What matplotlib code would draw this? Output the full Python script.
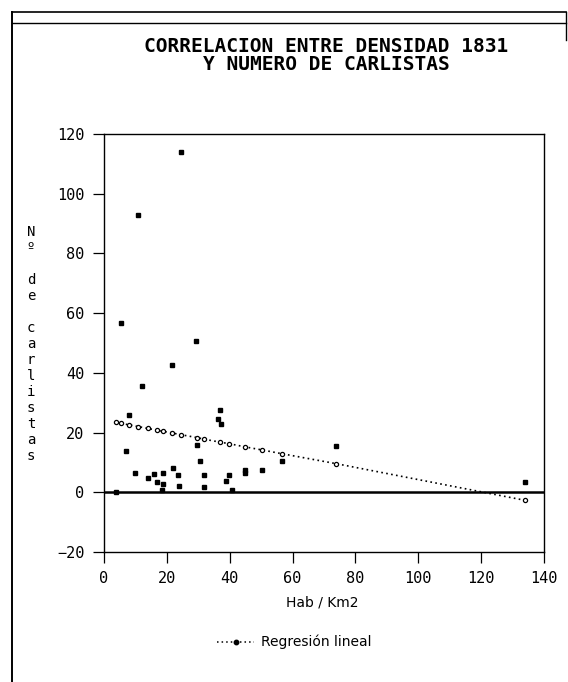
import numpy as np
import matplotlib
matplotlib.use("Agg")
import matplotlib.pyplot as plt
from matplotlib.lines import Line2D

# densidad (hab/km2) y numero de carlistas
densidad = [3.8, 5.3, 6.9, 7.9, 9.8, 10.9, 12.1, 13.9, 15.9, 16.8,
            18.9, 18.9, 18.4, 21.5, 22.0, 23.7, 23.8, 24.4, 29.3, 29.7,
            30.4, 31.8, 31.8, 36.2, 36.9, 37.2, 38.8, 39.7, 40.6, 44.9,
            44.9, 50.2, 56.7, 73.8, 134.0]
carlistas = [0.0, 56.8, 13.8, 25.8, 6.6, 93.0, 35.7, 4.7, 6.2, 3.6,
             6.6, 2.8, 0.8, 42.6, 8.0, 5.8, 2.0, 114.0, 50.8, 16.0,
             10.4, 5.7, 1.8, 24.5, 27.5, 22.8, 3.7, 5.7, 0.9, 7.6,
             6.3, 7.6, 10.4, 15.5, 3.5]

# puntos de la recta de regresion
reg_x = [3.8, 5.3, 7.9, 10.9, 13.9, 16.8, 18.9, 21.5, 24.4, 29.7,
         31.8, 36.9, 39.7, 44.9, 50.2, 56.7, 73.8, 134.0]
reg_y = [23.4, 23.1, 22.6, 22.0, 21.4, 20.8, 20.4, 19.9, 19.3, 18.3,
         17.8, 16.8, 16.3, 15.2, 14.2, 12.9, 9.6, -2.7]

xticks = [0, 20, 40, 60, 80, 100, 120, 140]
yticks = [-20, 0, 20, 40, 60, 80, 100, 120]

W, H = 568, 682
mono = "DejaVu Sans Mono"

fig = plt.figure(figsize=(W / 100, H / 100), dpi=100)
fig.patch.set_facecolor("white")

ax = fig.add_axes([104 / W, 1 - 552 / H, 440 / W, 418 / H])
ax.set_xlim(0, 140)
ax.set_ylim(-20, 120)

ax.axhline(0, color="black", lw=1.8, zorder=2)
ax.plot(reg_x, reg_y, linestyle=(0, (1, 2.0)), color="black", lw=1.2,
        marker="o", ms=3.0, mfc="white", mec="black", mew=0.9, zorder=3)
ax.plot(densidad, carlistas, linestyle="none", marker="s", ms=3.4,
        color="black", zorder=4)

for s in ax.spines.values():
    s.set_linewidth(1.0)
ax.set_xticks(xticks)
ax.set_yticks(yticks)
ax.tick_params(direction="out", length=8, width=0.9, pad=6,
               labelsize=11)
for lab in ax.get_xticklabels() + ax.get_yticklabels():
    lab.set_fontfamily(mono)

# etiqueta vertical letra a letra
ylab = ["N", "º", " ", "d", "e", " ", "c", "a", "r", "l", "i", "s", "t", "a", "s"]
for i, ch in enumerate(ylab):
    fig.text(31 / W, 1 - (232 + i * 16) / H, ch, ha="center", va="center",
             fontsize=10, family=mono)

fig.text(322 / W, 1 - 602 / H, "Hab / Km2", ha="center", va="center",
         fontsize=10)

# titulo
fig.text(326 / W, 1 - 46 / H, "CORRELACION ENTRE DENSIDAD 1831",
         ha="center", va="center", fontsize=14, family=mono,
         fontweight="bold")
fig.text(326 / W, 1 - 64 / H, "Y NUMERO DE CARLISTAS",
         ha="center", va="center", fontsize=14, family=mono,
         fontweight="bold")

# leyenda
fig.add_artist(Line2D([217 / W, 254 / W], [1 - 642 / H, 1 - 642 / H],
                      linestyle=(0, (1, 2)), color="black", lw=1.1))
fig.add_artist(Line2D([235.5 / W], [1 - 642 / H], marker="o", ms=3.2,
                      color="black"))
fig.text(261 / W, 1 - 642 / H, "Regresión lineal", ha="left",
         va="center", fontsize=10)

# marco exterior
fig.add_artist(Line2D([12 / W, 566 / W], [1 - 12 / H, 1 - 12 / H],
                      color="black", lw=1.2))
fig.add_artist(Line2D([12 / W, 566 / W], [1 - 23 / H, 1 - 23 / H],
                      color="black", lw=1.0))
fig.add_artist(Line2D([12 / W, 12 / W], [1 - 12 / H, 0], color="black",
                      lw=1.4))
fig.add_artist(Line2D([566 / W, 566 / W], [1 - 12 / H, 1 - 40 / H],
                      color="black", lw=1.0))

fig.savefig("out.png", dpi=100)
